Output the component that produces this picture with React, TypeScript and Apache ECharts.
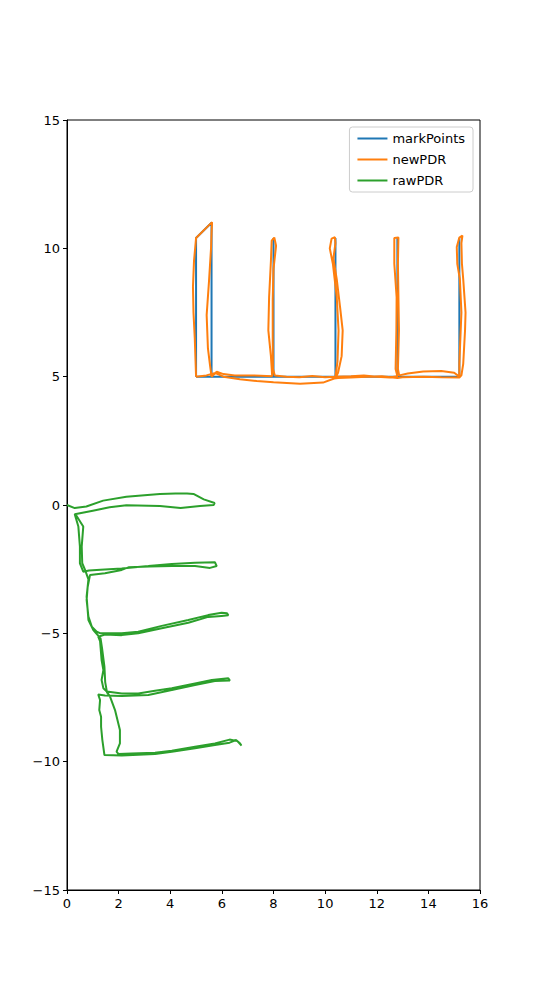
import React, { useEffect, useRef } from "react";
import * as echarts from "echarts";

const seriesNames = ["markPoints", "newPDR", "rawPDR"];
const seriesColors = ["#1f77b4", "#ff7f0e", "#2ca02c"];

const markPoints: number[][] = [
  [5, 5], [5, 10.4], [5.6, 11], [5.6, 5], [8, 5], [8, 10.4], [8, 5], [10.4, 5], [10.4, 10.4], [10.4, 5],
  [12.8, 5], [12.8, 10.4], [12.8, 5], [15.2, 5], [15.2, 10.4], [15.2, 5], [5, 5],
];

const newPDR: number[][] = [
  [5.0, 5.0], [4.98, 5.6], [4.95, 6.5], [4.9, 7.5], [4.88, 8.5], [4.92, 9.5], [5.0, 10.4], [5.62, 11.02],
  [5.6, 10.6], [5.58, 10.0], [5.5, 8.7], [5.41, 7.4], [5.46, 6.1], [5.54, 5.45], [5.6, 5.0],
  [5.8, 5.19], [6.06, 5.1], [6.5, 5.05], [7.0, 5.05], [7.5, 5.04], [7.95, 5.02],
  [7.9, 5.8], [7.8, 6.8], [7.83, 8.1], [7.9, 9.5], [7.93, 10.3], [8.03, 10.42], [8.1, 10.1], [8.0, 9.2],
  [7.97, 8.0], [7.97, 6.5], [7.98, 5.3], [8.05, 5.05],
  [8.5, 5.0], [9.0, 4.98], [9.5, 5.03], [10.0, 4.98], [10.4, 5.0],
  [10.48, 5.6], [10.52, 6.8], [10.45, 8.1], [10.3, 9.4], [10.18, 10.0], [10.25, 10.38], [10.38, 10.43],
  [10.4, 10.2], [10.32, 9.6], [10.45, 8.8], [10.58, 7.7], [10.68, 6.8], [10.64, 5.8], [10.5, 5.15], [10.42, 5.0],
  [11.0, 5.02], [11.5, 5.05], [12.0, 5.0], [12.5, 4.97], [12.8, 5.02],
  [12.73, 5.3], [12.76, 6.8], [12.77, 8.1], [12.68, 9.4], [12.68, 10.4], [12.84, 10.42], [12.82, 9.4],
  [12.84, 8.1], [12.86, 6.8], [12.82, 5.3], [12.87, 5.05],
  [13.2, 5.12], [13.8, 5.2], [14.5, 5.22], [15.0, 5.15], [15.2, 5.0],
  [15.2, 5.5], [15.28, 7.5], [15.22, 8.8], [15.12, 9.4], [15.1, 10.05], [15.2, 10.42], [15.32, 10.5],
  [15.28, 10.2], [15.3, 9.4], [15.35, 8.8], [15.44, 7.5], [15.42, 6.8], [15.35, 5.5], [15.28, 5.05], [15.2, 4.97],
  [14.5, 4.98], [13.8, 5.0], [13.0, 4.98], [12.8, 4.95], [12.2, 5.02], [11.6, 5.0], [11.0, 4.97], [10.5, 4.95],
  [10.35, 4.93], [9.92, 4.77], [9.03, 4.72], [8.0, 4.78], [7.35, 4.83], [6.7, 4.9], [6.06, 5.0], [5.75, 5.14],
  [5.4, 5.05], [5.0, 5.0],
];

const rawPDR: number[][] = [
  [0, 0], [0.3, -0.12], [0.75, -0.06], [1.4, 0.17], [2.3, 0.32], [3.0, 0.38], [3.6, 0.43], [4.2, 0.45],
  [4.65, 0.45], [4.9, 0.43], [5.3, 0.22], [5.72, 0.08], [5.68, 0.0], [5.15, -0.04], [4.4, -0.12], [3.6, -0.04],
  [2.3, -0.01], [1.65, -0.09], [1.0, -0.22], [0.3, -0.36],
  [0.44, -0.84], [0.5, -1.62], [0.5, -2.27], [0.63, -2.6],
  [0.85, -2.55], [1.3, -2.52], [2.12, -2.47], [3.15, -2.38], [4.06, -2.3], [4.96, -2.25], [5.73, -2.23], [5.8, -2.38],
  [5.54, -2.45], [4.96, -2.38], [4.06, -2.38], [3.2, -2.4], [2.38, -2.43], [2.12, -2.53], [1.47, -2.66], [0.89, -2.73],
  [0.8, -3.2], [0.76, -3.7], [0.83, -4.35], [0.96, -4.74], [1.15, -4.94], [1.3, -5.0],
  [1.6, -5.0], [2.12, -5.0], [2.76, -4.94], [3.67, -4.71], [4.7, -4.48], [5.47, -4.29], [5.99, -4.2], [6.2, -4.22], [6.25, -4.3],
  [5.99, -4.32], [5.47, -4.36], [4.7, -4.59], [3.67, -4.8], [2.76, -5.0], [2.12, -5.07], [1.47, -5.05], [1.21, -5.13],
  [1.28, -5.3], [1.34, -6.04], [1.41, -6.43], [1.34, -6.82], [1.41, -7.14], [1.54, -7.27],
  [2.12, -7.34], [2.76, -7.34], [3.41, -7.24], [4.06, -7.14], [4.96, -6.95], [5.61, -6.82], [6.25, -6.75], [6.31, -6.84],
  [5.73, -6.86], [4.96, -7.01], [4.06, -7.21], [3.15, -7.4], [2.12, -7.44], [1.47, -7.42], [1.21, -7.38],
  [1.28, -7.6], [1.25, -7.99], [1.32, -8.25], [1.32, -8.64], [1.37, -9.16], [1.45, -9.74],
  [2.12, -9.76], [3.41, -9.7], [4.06, -9.61], [4.96, -9.48], [5.73, -9.35], [6.3, -9.26], [6.55, -9.16],
  [6.7, -9.28], [6.76, -9.37], [6.6, -9.2], [6.3, -9.14], [5.73, -9.29],
  [4.96, -9.42], [4.06, -9.57], [3.41, -9.65], [2.5, -9.68], [1.99, -9.7],
  [1.92, -9.61], [2.05, -9.29], [2.05, -8.77], [1.86, -7.99], [1.66, -7.45], [1.55, -7.3],
  [1.48, -6.9], [1.45, -6.3], [1.36, -5.6], [1.3, -5.2], [1.02, -4.87], [0.83, -4.48], [0.76, -3.57],
  [0.83, -2.9], [0.7, -2.53], [0.59, -2.27], [0.57, -1.62], [0.63, -0.84], [0.31, -0.33],
];

const xRange = { min: 0, max: 16, interval: 2 };
const yRange = { min: -15, max: 15, interval: 5 };

const seriesData = [markPoints, newPDR, rawPDR];

export default function App() {
  const ref = useRef<HTMLDivElement>(null);
  useEffect(() => {
    if (!ref.current) return;
    const chart = echarts.init(ref.current, null, { renderer: "svg" });
    const font = "DejaVu Sans";
    const fmt = (v: number) => String(v).replace("-", "\u2212");
    chart.setOption({
      animation: false,
      backgroundColor: "#ffffff",
      grid: {
        left: 67,
        right: 53,
        top: 120,
        bottom: 110,
        show: true,
        borderColor: "#000",
        borderWidth: 1,
        backgroundColor: "transparent",
      },
      legend: {
        data: seriesNames,
        orient: "vertical",
        right: 60,
        top: 127,
        itemWidth: 30,
        itemHeight: 14,
        itemGap: 8,
        padding: [5, 8, 5, 7],
        borderColor: "#cccccc",
        borderWidth: 1,
        borderRadius: 3,
        backgroundColor: "rgba(255,255,255,0.8)",
        itemStyle: { opacity: 0 },
        lineStyle: { width: 2 },
        textStyle: { fontFamily: font, fontSize: 13, color: "#000" },
      },
      xAxis: {
        type: "value",
        min: xRange.min,
        max: xRange.max,
        interval: xRange.interval,
        splitLine: { show: false },
        axisLine: { show: true, onZero: false, lineStyle: { color: "#000", width: 1 } },
        axisTick: { show: true, length: 4, lineStyle: { color: "#000" } },
        axisLabel: { fontFamily: font, fontSize: 13, color: "#000", margin: 7, formatter: fmt },
      },
      yAxis: {
        type: "value",
        min: yRange.min,
        max: yRange.max,
        interval: yRange.interval,
        splitLine: { show: false },
        axisLine: { show: true, onZero: false, lineStyle: { color: "#000", width: 1 } },
        axisTick: { show: true, length: 4, lineStyle: { color: "#000" } },
        axisLabel: { fontFamily: font, fontSize: 13, color: "#000", margin: 7, formatter: fmt },
      },
      series: seriesNames.map((name, i) => ({
        name,
        type: "line",
        data: seriesData[i],
        symbol: "none",
        smooth: false,
        color: seriesColors[i],
        lineStyle: { color: seriesColors[i], width: 2 },
        z: 2 + i,
      })),
    });
    return () => chart.dispose();
  }, []);
  return (
    <div
      ref={ref}
      style={{ position: "absolute", left: 0, top: 0, width: 533, height: 1000 }}
    />
  );
}
